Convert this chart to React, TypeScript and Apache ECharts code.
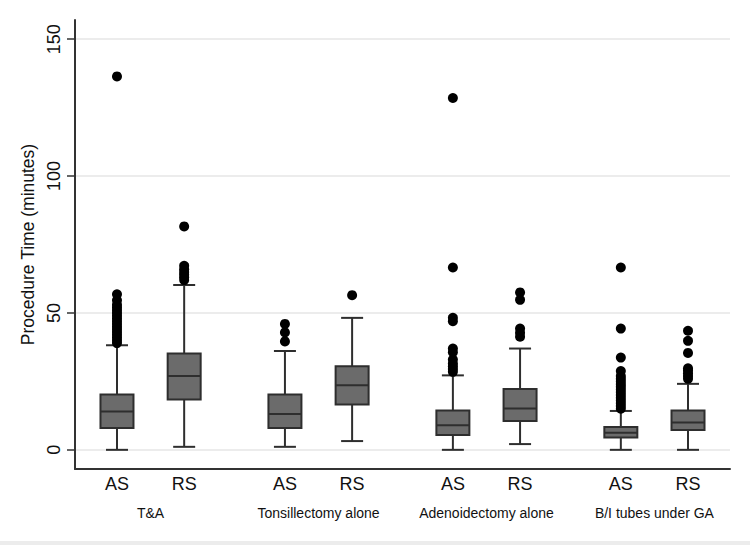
import React, { useEffect, useRef } from 'react';
import * as echarts from 'echarts';

const groupNames = ['T&A', 'Tonsillectomy alone', 'Adenoidectomy alone', 'B/I tubes under GA'];
const groupPositions = [2, 7, 12, 17];
const boxLabels = ['AS', 'RS', 'AS', 'RS', 'AS', 'RS', 'AS', 'RS'];
const boxPositions = [1, 3, 6, 8, 11, 13, 16, 18];
const yTicks = [0, 50, 100, 150];

// [lower whisker, Q1, median, Q3, upper whisker]
const boxStats = [
  [0, 8, 14, 20.2, 38.2],
  [1.1, 18.4, 27, 35.2, 60.2],
  [1.1, 8, 13.1, 20.2, 36.1],
  [3.2, 16.6, 23.6, 30.5, 48.2],
  [0, 5.4, 9, 14.4, 27.2],
  [2.1, 10.5, 15.1, 22.2, 37],
  [0, 4.5, 6.2, 8.3, 14.2],
  [0, 7.2, 10, 14.4, 24.1],
];

const outliers = [
  [39, 40, 41, 42, 43, 44, 45, 46, 47, 48, 49, 50, 51, 52, 53, 54.6, 56.8, 136.4],
  [62, 63, 64, 65, 66, 67.2, 81.6],
  [39.6, 42.9, 46],
  [56.5],
  [28.5, 29.5, 30.5, 31.5, 33, 35.6, 37, 47, 48.2, 66.6, 128.5],
  [41.3, 42.8, 44.3, 54.8, 57.5],
  [15, 16, 17, 18, 19, 20, 21, 22, 23, 24, 25, 26, 27, 28.8, 33.7, 44.3, 66.6],
  [26, 27, 28, 29, 29.8, 35.4, 39.8, 43.5],
];

const FONT = '"Liberation Sans", Arial, Helvetica, sans-serif';

export default function App() {
  const ref = useRef<HTMLDivElement>(null);

  useEffect(() => {
    if (!ref.current) return;
    const chart = echarts.init(ref.current, null, { renderer: 'svg' });

    const boxData = boxStats.map((s, i) => [boxPositions[i], ...s]);
    const outlierData: number[][] = [];
    outliers.forEach((arr, i) => arr.forEach((v) => outlierData.push([boxPositions[i], v])));

    const dark = '#2e2e2e';

    chart.setOption({
      animation: false,
      backgroundColor: '#ffffff',
      textStyle: { fontFamily: FONT },
      grid: { left: 75, right: 20, top: 20, bottom: 76 },
      xAxis: [
        {
          type: 'value',
          min: -0.25,
          max: 19.25,
          axisLine: { show: true, onZero: false, lineStyle: { color: '#333', width: 2 } },
          axisTick: { show: false },
          splitLine: { show: false },
          axisLabel: {
            customValues: boxPositions,
            formatter: (v: number) => boxLabels[boxPositions.indexOf(v)] ?? '',
            fontSize: 18,
            margin: 6,
            color: '#111',
            fontFamily: FONT,
          },
        },
        {
          type: 'value',
          min: -0.25,
          max: 19.25,
          position: 'bottom',
          axisLine: { show: false, onZero: false },
          axisTick: { show: false },
          splitLine: { show: false },
          axisLabel: {
            customValues: groupPositions,
            formatter: (v: number) => groupNames[groupPositions.indexOf(v)] ?? '',
            fontSize: 14,
            margin: 37,
            color: '#111',
            fontFamily: FONT,
          },
        },
      ],
      yAxis: {
        type: 'value',
        min: -7,
        max: 157,
        name: 'Procedure Time (minutes)',
        nameLocation: 'middle',
        nameGap: 33,
        nameRotate: 90,
        nameTextStyle: { fontSize: 17.5, color: '#111', fontFamily: FONT },
        axisLine: { show: true, onZero: false, lineStyle: { color: '#333', width: 2 } },
        axisTick: { show: true, length: 8, customValues: yTicks, lineStyle: { color: '#333', width: 1.5 } },
        axisLabel: { customValues: yTicks, rotate: 90, fontSize: 18, margin: 12, color: '#111', fontFamily: FONT },
        splitLine: { show: true, lineStyle: { color: '#e6e6e6', width: 1.5 } },
      },
      series: [
        {
          type: 'custom',
          xAxisIndex: 0,
          data: boxData,
          encode: { x: 0, y: [1, 2, 3, 4, 5] },
          renderItem: (params: any, api: any) => {
            const x = api.value(0);
            const lo = api.coord([x, api.value(1)]);
            const q1 = api.coord([x, api.value(2)]);
            const md = api.coord([x, api.value(3)]);
            const q3 = api.coord([x, api.value(4)]);
            const hi = api.coord([x, api.value(5)]);
            const cx = lo[0];
            const bw = 33;
            const cw = 22;
            const ls = { stroke: dark, lineWidth: 2 };
            return {
              type: 'group',
              children: [
                { type: 'line', shape: { x1: cx, y1: lo[1], x2: cx, y2: q1[1] }, style: ls },
                { type: 'line', shape: { x1: cx, y1: q3[1], x2: cx, y2: hi[1] }, style: ls },
                { type: 'line', shape: { x1: cx - cw / 2, y1: lo[1], x2: cx + cw / 2, y2: lo[1] }, style: ls },
                { type: 'line', shape: { x1: cx - cw / 2, y1: hi[1], x2: cx + cw / 2, y2: hi[1] }, style: ls },
                {
                  type: 'rect',
                  shape: { x: cx - bw / 2, y: q3[1], width: bw, height: q1[1] - q3[1] },
                  style: { fill: '#6b6b6b', stroke: dark, lineWidth: 2 },
                },
                { type: 'line', shape: { x1: cx - bw / 2, y1: md[1], x2: cx + bw / 2, y2: md[1] }, style: ls },
              ],
            };
          },
          z: 2,
        },
        {
          type: 'scatter',
          xAxisIndex: 0,
          data: outlierData,
          symbol: 'circle',
          symbolSize: 10,
          itemStyle: { color: '#000', opacity: 1 },
          z: 3,
        },
      ],
      graphic: [
        { type: 'rect', left: 0, top: 541, shape: { x: 0, y: 0, width: 750, height: 4 }, style: { fill: '#ececec' }, silent: true },
      ],
    });

    return () => chart.dispose();
  }, []);

  return (
    <div
      ref={ref}
      style={{ position: 'fixed', left: 0, top: 0, width: 750, height: 545, background: '#fff' }}
    />
  );
}
